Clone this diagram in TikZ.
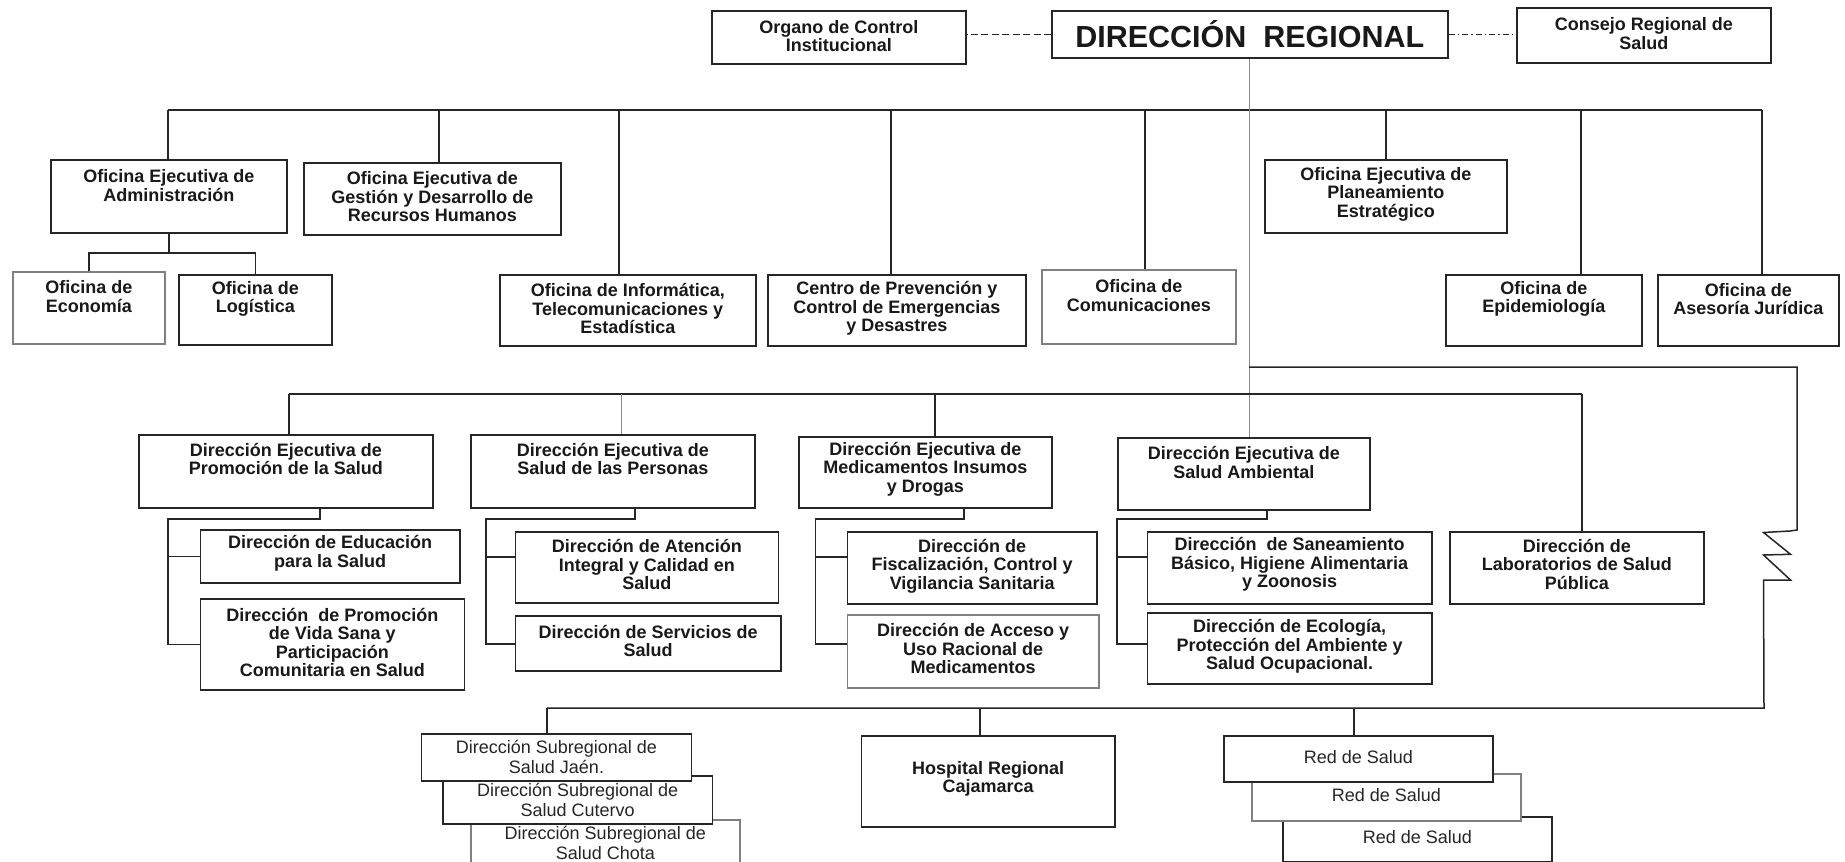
\documentclass[tikz,border=0pt]{standalone}
\usepackage{fontspec}
\setmainfont{Liberation Sans}
\tikzset{
  box/.style={draw=black!85, line width=1.6pt, fill=white, inner sep=0pt},
  lite/.style={draw=black!50},
  lbl/.style={align=center, inner sep=0pt, font=\fontsize{18}{18.5}\selectfont\bfseries, text=black!90},
  rlbl/.style={align=center, inner sep=0pt, font=\fontsize{18}{20}\selectfont, text=black!85},
  biglbl/.style={align=center, inner sep=0pt, font=\fontsize{30.5}{31}\selectfont\bfseries, text=black!90},
  conn/.style={line width=1.5pt, draw=black!85},
  thinln/.style={line width=1pt, draw=black!45},
}
\newcommand\BX[6][]{%
  \pgfmathsetmacro\bw{#5-#3}\pgfmathsetmacro\bh{#6-#4}%
  \node[box,#1,minimum width=\bw pt,minimum height=\bh pt,anchor=north west] (#2) at (#3,#4) {};}
\newcommand\TX[4][lbl]{%
  \node[#1] (#2-t) at (#2.center |- 0,#3) {#4};}
\begin{document}
\begin{tikzpicture}[x=1pt,y=-1pt]
\useasboundingbox (0,0) rectangle (1845,862);
% ---------- top level ----------
\BX{org}{711}{10}{965}{63}\TX{org}{36}{Organo de Control\\Institucional}
\BX{dr}{1051}{10}{1447}{57}\TX[biglbl]{dr}{34}{DIRECCIÓN\ \ REGIONAL}
\BX{cons}{1516}{7}{1770}{62}\TX{cons}{33.5}{Consejo Regional de\\Salud}
\draw[conn, dash pattern=on 7pt off 3.5pt] (dr.west) -- (dr.west -| org.east);
\draw[conn, dash pattern=on 6pt off 3pt on 1.5pt off 3pt] (dr.east) -- (dr.east -| cons.west);
% ---------- first row ----------
\BX{adm}{50}{159}{286}{232}\TX{adm}{185.5}{Oficina Ejecutiva de\\Administración}
\BX{ges}{303}{162}{560}{234}\TX{ges}{197}{Oficina Ejecutiva de\\Gestión y Desarrollo de\\Recursos Humanos}
\BX{pla}{1264}{159}{1506}{232}\TX{pla}{194}{Oficina Ejecutiva de\\Planeamiento\\Estratégico}
\BX[lite]{eco}{12}{271}{164}{343}\TX{eco}{296.5}{Oficina de\\Economía}
\BX{log}{178}{274}{331}{344}\TX{log}{299}{Oficina de\\Logística}
\BX{inf}{499}{274}{755}{345}\TX{inf}{308.5}{Oficina de Informática,\\Telecomunicaciones y\\Estadística}
\BX{cen}{767}{274}{1025}{345}\TX{cen}{308.5}{Centro de Prevención y\\Control de Emergencias\\y Desastres}
\BX[lite]{com}{1041}{269}{1235}{343}\TX{com}{295.5}{Oficina de\\Comunicaciones}
\BX{epi}{1445}{274}{1641}{345}\TX{epi}{299}{Oficina de\\Epidemiología}
\BX{ase}{1657}{274}{1838}{345}\TX{ase}{299}{Oficina de\\Asesoría Jurídica}
% top bus
\coordinate (d1) at (168,110); \coordinate (d2) at (439,110);
\coordinate (d3) at (619,110); \coordinate (d4) at (891,110);
\coordinate (d5) at (1145,110); \coordinate (d6) at (1386,110);
\coordinate (d7) at (1581,110); \coordinate (d8) at (1762,110);
\draw[conn] (d1) -- (d8);
\draw[conn] (d1) -- (d1 |- adm.north);
\draw[conn] (d2) -- (d2 |- ges.north);
\draw[conn] (d3) -- (d3 |- inf.north);
\draw[conn] (d4) -- (d4 |- cen.north);
\draw[conn] (d5) -- (d5 |- com.north);
\draw[conn] (d6) -- (d6 |- pla.north);
\draw[conn] (d7) -- (d7 |- epi.north);
\draw[conn] (d8) -- (d8 |- ase.north);
% admin sub
\coordinate (ab) at (168,253);
\draw[conn] (adm.south) -- (adm.south |- ab);
\draw[conn] (eco.north) |- (ab) -| (log.north);
% ---------- second row ----------
\BX{prom}{138}{434}{432}{507}\TX{prom}{459}{Dirección Ejecutiva de\\Promoción de la Salud}
\BX{pers}{470}{434}{754}{507}\TX{pers}{459}{Dirección Ejecutiva de\\Salud de las Personas}
\BX{med}{798}{436}{1051}{507}\TX{med}{469}{Dirección Ejecutiva de\\Medicamentos Insumos\\y Drogas}
\BX{amb}{1117}{437}{1369}{509}\TX{amb}{462.5}{Dirección Ejecutiva de\\Salud Ambiental}
\BX{edu}{199.5}{529}{459}{582}\TX{edu}{553.5}{Dirección de Educación\\para la Salud}
\BX{vida}{199.5}{598}{463.5}{689}\TX{vida}{642.5}{Dirección\ \ de Promoción\\de Vida Sana y\\Participación\\Comunitaria en Salud}
\BX{ate}{514.6}{531}{777.5}{602}\TX{ate}{564.5}{Dirección de Atención\\Integral y Calidad en\\Salud}
\BX{ser}{514.6}{615}{780}{670}\TX{ser}{641}{Dirección de Servicios de\\Salud}
\BX{fis}{846.7}{531}{1096}{603}\TX{fis}{566}{Dirección de\\Fiscalización, Control y\\Vigilancia Sanitaria}
\BX[lite]{acc}{846.7}{614}{1098}{687}\TX{acc}{648.5}{Dirección de Acceso y\\Uso Racional de\\Medicamentos}
\BX{san}{1146.5}{531}{1431}{603}\TX{san}{564.5}{Dirección\ \ de Saneamiento\\Básico, Higiene Alimentaria\\y Zoonosis}
\BX{ecol}{1146.5}{612}{1431}{683}\TX{ecol}{646.5}{Dirección de Ecología,\\Protección del Ambiente y\\Salud Ocupacional.}
\BX{lab}{1449}{531}{1703}{603}\TX{lab}{564}{Dirección de\\Laboratorios de Salud\\Pública}
% DR vertical
\draw[thinln] (dr.south) -- (dr.south |- amb.north);
% second bus
\coordinate (e1) at (289,394); \coordinate (e2) at (621,394);
\coordinate (e3) at (935,394); \coordinate (e5) at (1582,394);
\draw[conn] (e1) -- (e5);
\draw[conn] (e1) -- (e1 |- prom.north);
\draw[thinln] (e2) -- (e2 |- pers.north);
\draw[conn] (e3) -- (e3 |- med.north);
\draw[conn] (e5) -- (e5 |- lab.north);
% promocion branch
\coordinate (pj) at (320,519); \coordinate (pv) at (168,519);
\draw[conn] (pj |- prom.south) -- (pj) -- (pv) |- (vida.west);
\draw[conn] (pv |- edu.west) -- (edu.west);
% personas branch
\coordinate (sj) at (635,519); \coordinate (sv) at (486,519);
\coordinate (sb1) at (486,557); \coordinate (sb2) at (486,644);
\draw[conn] (sj |- pers.south) -- (sj) -- (sv) -- (sb2) -- (sb2 -| ser.west);
\draw[conn] (sb1) -- (sb1 -| ate.west);
% medicamentos branch
\coordinate (mj) at (964,519); \coordinate (mv) at (815.6,519);
\coordinate (mb1) at (815.6,557); \coordinate (mb2) at (815.6,644);
\draw[conn] (mj |- med.south) -- (mj) -- (mv) -- (mb2) -- (mb2 -| acc.west);
\draw[conn] (mb1) -- (mb1 -| fis.west);
% ambiental branch
\coordinate (aj) at (1267,519); \coordinate (av) at (1117,519);
\coordinate (ab1) at (1117,557); \coordinate (ab2) at (1117,644);
\draw[conn] (aj |- amb.south) -- (aj) -- (av) -- (ab2) -- (ab2 -| ecol.west);
\draw[conn] (ab1) -- (ab1 -| san.west);
% ---------- third row ----------
\BX[lite]{cho}{470}{819}{739}{875}\TX[rlbl]{cho}{842.5}{Dirección Subregional de\\Salud Chota}
\BX{cut}{442}{775}{711.7}{823}\TX[rlbl]{cut}{799.5}{Dirección Subregional de\\Salud Cutervo}
\BX{jaen}{420.7}{733}{690.7}{780}\TX[rlbl]{jaen}{756.7}{Dirección Subregional de\\Salud Jaén.}
\BX{hosp}{860.5}{735}{1114}{826}\TX{hosp}{779}{Hospital Regional\\Cajamarca}
\BX{red3}{1282}{816}{1551}{861}\TX[rlbl]{red3}{837}{Red de Salud}
\BX[lite]{red2}{1251}{773}{1520}{820}\TX[rlbl]{red2}{795}{Red de Salud}
\BX{red1}{1223}{735}{1492}{781}\TX[rlbl]{red1}{757}{Red de Salud}
% link with zigzag
\coordinate (z0) at (1249,367);
\coordinate (z1) at (1797,367);
\coordinate (z2) at (1797,530);
\coordinate (zb) at (1764,708);
\coordinate (f1) at (547,708); \coordinate (f2) at (980,708); \coordinate (f3) at (1354,708);
\draw[conn, line join=miter] (z0) -- (z1) -- (z2) -- (1790,531) -- (1763.5,532.5)
  -- (1790.5,554.3) -- (1763.5,555) -- (1790.5,580) -- (1763.5,580) -- (zb) -- (f1);
\draw[conn] (f1) -- (f1 |- jaen.north);
\draw[conn] (f2) -- (f2 |- hosp.north);
\draw[conn] (f3) -- (f3 |- red1.north);
\end{tikzpicture}
\end{document}
